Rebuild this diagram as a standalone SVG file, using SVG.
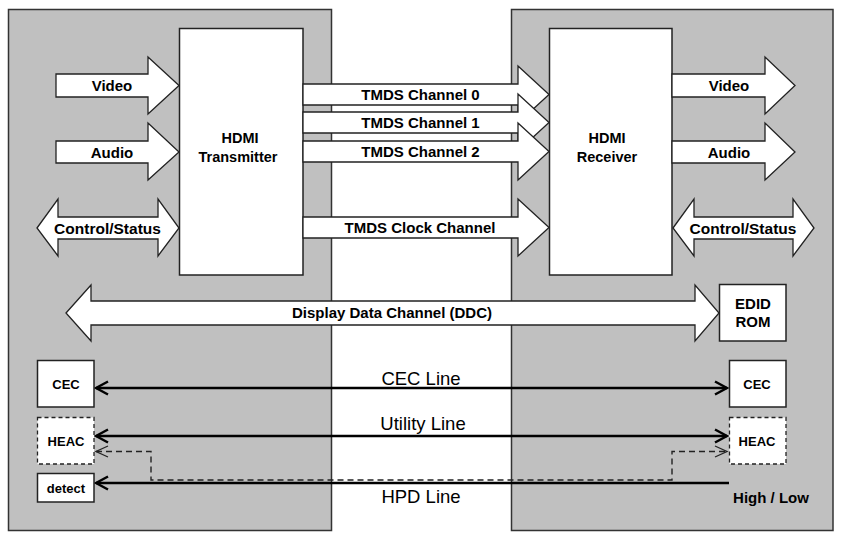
<svg xmlns="http://www.w3.org/2000/svg" width="845" height="540" viewBox="0 0 845 540">
  <style>
    .panel { fill: #c0c0c0; stroke: #333; stroke-width: 1.5; }
    .box { fill: #fff; stroke: #222; stroke-width: 1.5; }
    .dbox { fill: #fff; stroke: #222; stroke-width: 1.3; stroke-dasharray: 4 3; }
    .blk { fill: #fff; stroke: #222; stroke-width: 1.3; stroke-linejoin: miter; }
    .lbl { font-family: "Liberation Sans", Arial, sans-serif; font-weight: bold; fill: #000; text-anchor: middle; }
    .reg { font-family: "Liberation Sans", Arial, sans-serif; fill: #000; text-anchor: middle; font-size: 18.5px; }
    .line { stroke: #000; stroke-width: 2.5; fill: none; }
    .dash { stroke: #222; stroke-width: 1.4; fill: none; stroke-dasharray: 6 4; }
  </style>
  <defs>
    <marker id="chev" markerUnits="userSpaceOnUse" markerWidth="18" markerHeight="18" viewBox="-16 -9 18 18" refX="0" refY="0" orient="auto-start-reverse">
      <path d="M-12,-6.5 L0,0 L-12,6.5" fill="none" stroke="#000" stroke-width="2.5"/>
    </marker>
    <marker id="chevThin" markerUnits="userSpaceOnUse" markerWidth="18" markerHeight="18" viewBox="-16 -9 18 18" refX="0" refY="0" orient="auto-start-reverse">
      <path d="M-12,-5.5 L0,0 L-12,5.5" fill="none" stroke="#222" stroke-width="1.3"/>
    </marker>
  </defs>

  <!-- Source and sink device panels -->
  <g id="source-panel"><rect class="panel" x="8.5" y="9.5" width="323" height="521"/></g>
  <g id="sink-panel"><rect class="panel" x="511.5" y="9.5" width="321.5" height="521"/></g>

  <!-- Transmitter / receiver -->
  <g id="transmitter">
    <rect class="box" x="179.5" y="28.5" width="123.5" height="246.5"/>
    <text class="lbl" x="240" y="143" font-size="14.5">HDMI</text>
    <text class="lbl" x="238" y="162" font-size="14.5">Transmitter</text>
  </g>
  <g id="receiver">
    <rect class="box" x="549.5" y="28.5" width="122.5" height="246.5"/>
    <text class="lbl" x="607" y="143" font-size="14.5">HDMI</text>
    <text class="lbl" x="607" y="162" font-size="14.5">Receiver</text>
  </g>

  <g id="connectors">
    <!-- Source side inputs -->
    <polygon class="blk" points="56,74 148,74 148,57 179,85.5 148,114 148,97 56,97"/>
    <polygon class="blk" points="56,141 148,141 148,123 179,152 148,180 148,163 56,163"/>
    <polygon class="blk" points="37,228 58,199 58,217 158,217 158,199 179,228 158,256 158,239 58,239 58,256"/>
    <!-- Sink side outputs -->
    <polygon class="blk" points="672,74 765,74 765,57 795,85.5 765,114 765,97 672,97"/>
    <polygon class="blk" points="672,141 765,141 765,123 795,152 765,180 765,163 672,163"/>
    <polygon class="blk" points="673,228 694,199 694,217 793,217 793,199 814,228 793,256 793,239 694,239 694,256"/>
    <!-- TMDS channels -->
    <polygon class="blk" points="303,84 518,84 518,66 549,94.5 518,123 518,105 303,105"/>
    <polygon class="blk" points="303,112 518,112 518,94 549,122.5 518,151 518,133 303,133"/>
    <polygon class="blk" points="303,141 518,141 518,123 549,151.5 518,180 518,162 303,162"/>
    <polygon class="blk" points="303,217 518,217 518,199 549,227.5 518,256 518,238 303,238"/>
    <!-- DDC -->
    <polygon class="blk" points="66,313 91,285 91,301 695,301 695,285 719,313 695,341 695,325 91,325 91,341"/>
    <!-- CEC, Utility, HPD lines -->
    <line class="line" x1="96" y1="388" x2="727" y2="388" marker-start="url(#chev)" marker-end="url(#chev)"/>
    <line class="line" x1="96" y1="436" x2="727" y2="436" marker-start="url(#chev)" marker-end="url(#chev)"/>
    <line class="line" x1="96" y1="483" x2="729" y2="483" marker-start="url(#chev)"/>
    <!-- HEAC path over Utility/HPD -->
    <polyline class="dash" points="96,451.5 151,451.5 151,480 672,480 672,451.5 727,451.5" marker-start="url(#chevThin)" marker-end="url(#chevThin)"/>
  </g>

  <!-- Connector labels -->
  <g id="labels">
    <text class="lbl" x="112" y="91" font-size="15">Video</text>
    <text class="lbl" x="112" y="158" font-size="15">Audio</text>
    <text class="lbl" x="107.5" y="234" font-size="15.5">Control/Status</text>
    <text class="lbl" x="729" y="91" font-size="15">Video</text>
    <text class="lbl" x="729" y="158" font-size="15">Audio</text>
    <text class="lbl" x="743" y="234" font-size="15.5">Control/Status</text>
    <text class="lbl" x="420.5" y="100" font-size="15">TMDS Channel 0</text>
    <text class="lbl" x="420.5" y="128" font-size="15">TMDS Channel 1</text>
    <text class="lbl" x="420.5" y="157" font-size="15">TMDS Channel 2</text>
    <text class="lbl" x="420" y="233" font-size="15">TMDS Clock Channel</text>
    <text class="lbl" x="392" y="318" font-size="15">Display Data Channel (DDC)</text>
    <text class="reg" x="421" y="385">CEC Line</text>
    <text class="reg" x="423" y="430">Utility Line</text>
    <text class="reg" x="421" y="503">HPD Line</text>
    <text class="lbl" x="771" y="503" font-size="15">High / Low</text>
  </g>

  <!-- Line endpoints -->
  <g id="edid-rom">
    <rect class="box" x="719.5" y="284.5" width="66.5" height="56.5"/>
    <text class="lbl" x="753" y="309" font-size="15">EDID</text>
    <text class="lbl" x="753" y="327" font-size="15">ROM</text>
  </g>
  <g id="cec-src">
    <rect class="box" x="37.5" y="360.5" width="56.5" height="46.5"/>
    <text class="lbl" x="66" y="389" font-size="13">CEC</text>
  </g>
  <g id="heac-src">
    <rect class="dbox" x="37.5" y="417.5" width="56.5" height="46.5"/>
    <text class="lbl" x="66" y="446" font-size="13">HEAC</text>
  </g>
  <g id="detect">
    <rect class="box" x="37.5" y="473.5" width="56.5" height="28.5"/>
    <text class="lbl" x="66" y="493" font-size="13">detect</text>
  </g>
  <g id="cec-sink">
    <rect class="box" x="729.5" y="360.5" width="56.5" height="46.5"/>
    <text class="lbl" x="757" y="389" font-size="13">CEC</text>
  </g>
  <g id="heac-sink">
    <rect class="dbox" x="729.5" y="417.5" width="56.5" height="46.5"/>
    <text class="lbl" x="757" y="446" font-size="13">HEAC</text>
  </g>
</svg>
